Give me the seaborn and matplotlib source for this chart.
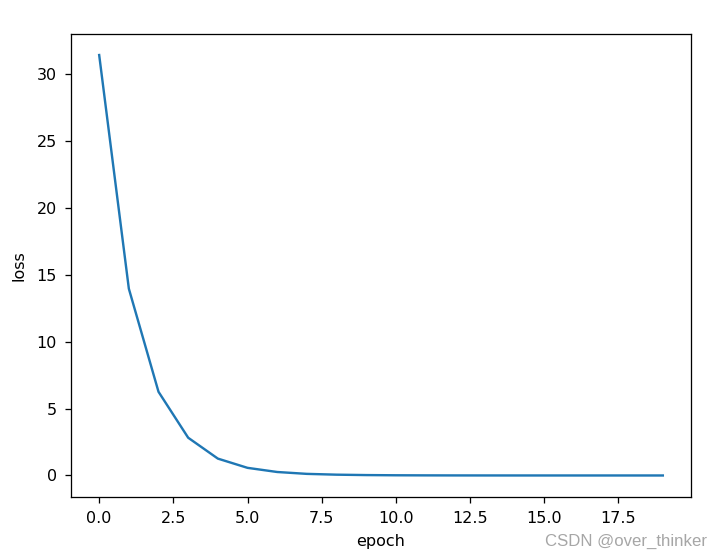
import numpy as np
import pandas as pd
import seaborn as sns
import matplotlib
matplotlib.use('Agg')
import matplotlib.pyplot as plt

epochs = list(range(20))
loss = [31.4, 13.95, 6.25, 2.82, 1.26, 0.57, 0.26, 0.12, 0.06, 0.03,
        0.015, 0.008, 0.004, 0.002, 0.001, 0.0006, 0.0003, 0.0002, 0.0001, 0.00005]

df = pd.DataFrame({'epoch': epochs, 'loss': loss})

DPI = 115
fig = plt.figure(figsize=(721 / DPI, 559 / DPI), dpi=DPI)
ax = fig.add_axes([71 / 721, 1 - 496.5 / 559, 620 / 721, 462.5 / 559])
sns.lineplot(data=df, x='epoch', y='loss', ax=ax, color='#1f77b4', linewidth=1.5)
ax.tick_params(length=3.8, pad=5)
ax.set_xlabel('epoch', labelpad=5)
ax.set_ylabel('loss', labelpad=6.5)

fig.text(707 / 721, 1 - 541 / 559, 'CSDN @over_thinker', ha='right', va='center',
         fontsize=10.5, color='#a6a6a6', family='Liberation Sans')

fig.savefig('out.png', dpi=DPI)
